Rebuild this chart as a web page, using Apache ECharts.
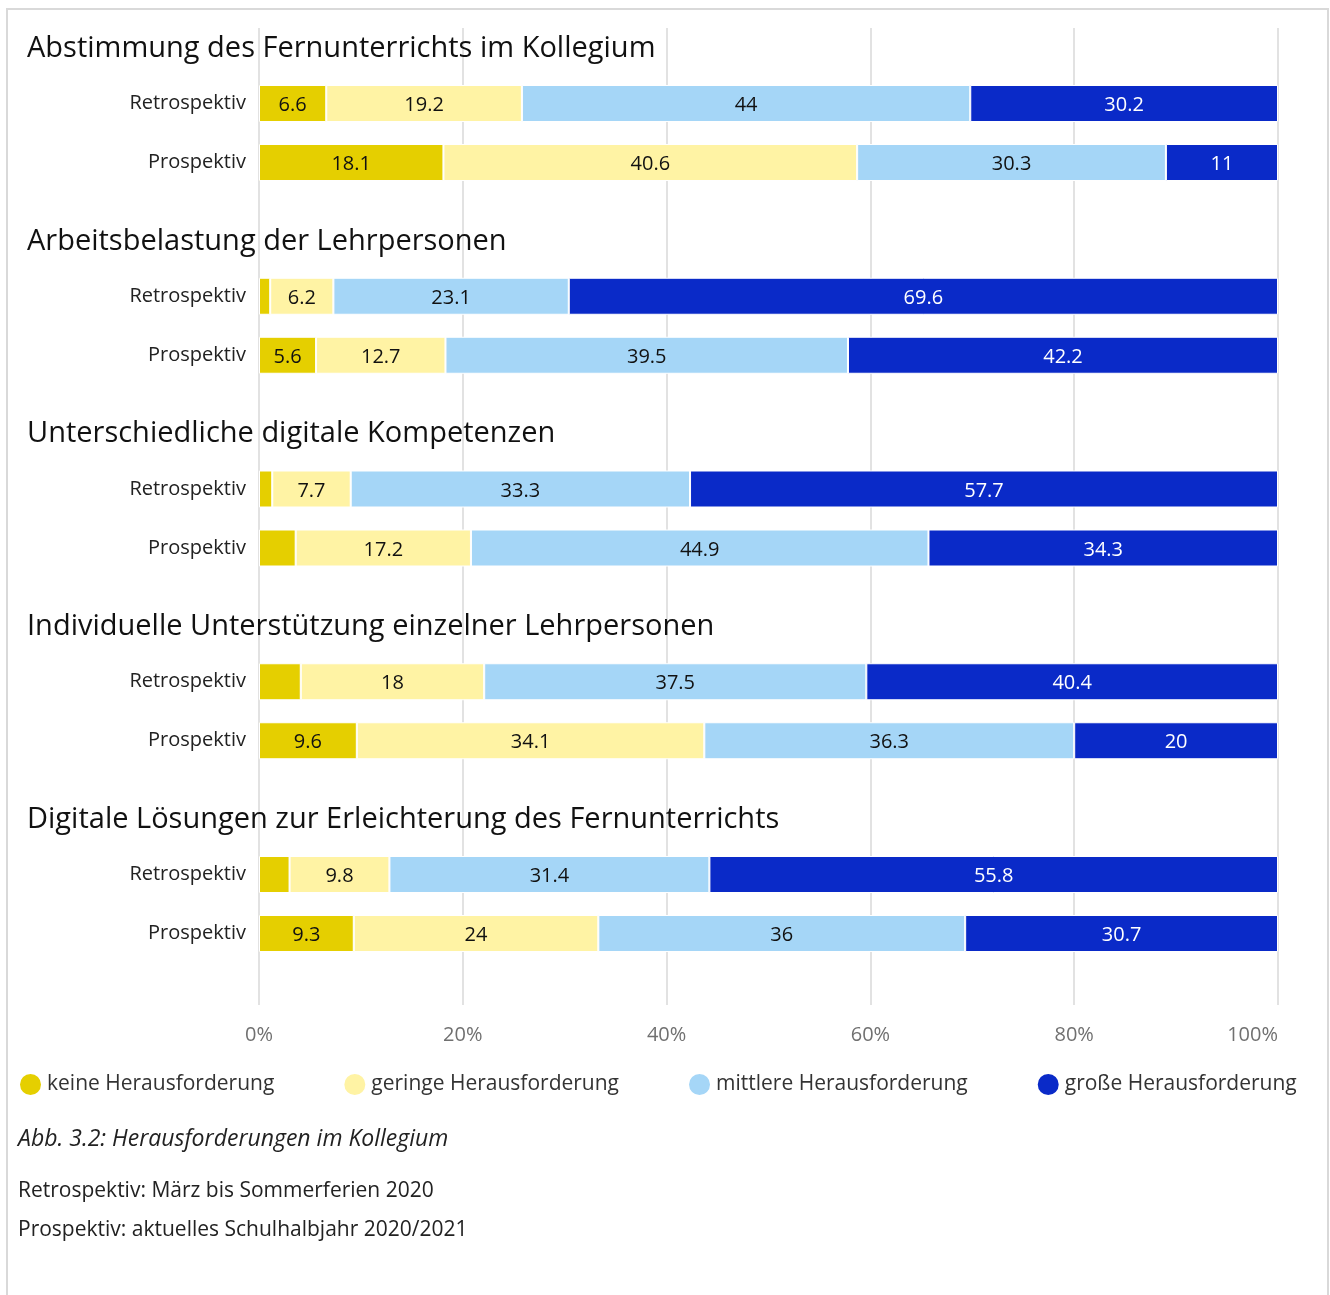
<!DOCTYPE html>
<html>
<head>
<meta charset="utf-8">
<script src="https://cdn.jsdelivr.net/npm/echarts@6/dist/echarts.min.js"></script>
<style>
  html, body { margin: 0; padding: 0; background: #fff; }
  #chart { width: 1330px; height: 1295px; }
</style>
</head>
<body>
<div id="chart"></div>
<script>
var groupTitles = [
    'Abstimmung des Fernunterrichts im Kollegium',
    'Arbeitsbelastung der Lehrpersonen',
    'Unterschiedliche digitale Kompetenzen',
    'Individuelle Unterstützung einzelner Lehrpersonen',
    'Digitale Lösungen zur Erleichterung des Fernunterrichts'
];
var rowLabels = ['Retrospektiv', 'Prospektiv'];
var seriesNames = ['keine Herausforderung', 'geringe Herausforderung', 'mittlere Herausforderung', 'große Herausforderung'];
// je Gruppe: Retrospektiv, Prospektiv
var keine    = [6.6, 18.1, 1.1, 5.6, 1.3, 3.6, 4.1, 9.6, 3.0, 9.3];
var geringe  = [19.2, 40.6, 6.2, 12.7, 7.7, 17.2, 18, 34.1, 9.8, 24];
var mittlere = [44, 30.3, 23.1, 39.5, 33.3, 44.9, 37.5, 36.3, 31.4, 36];
var grosse   = [30.2, 11, 69.6, 42.2, 57.7, 34.3, 40.4, 20, 55.8, 30.7];

var allValues = [keine, geringe, mittlere, grosse];
var colorList = ['#e5cf00', '#fff3a4', '#a5d6f7', '#0a2ac8'];
var labelColors = ['#111', '#111', '#111', '#fff'];
var fontFam = '"Open Sans", Lato, sans-serif';

var chartLeft = 259, chartRight = 52;
var firstTop = 74, groupStep = 192.75, groupHeight = 118;

var grids = [{left: chartLeft, right: chartRight, top: 28, bottom: 290}];
var xAxes = [{
    gridIndex: 0, type: 'value', min: 0, max: 100, interval: 20,
    axisLine: {show: false}, axisTick: {show: false},
    splitLine: {show: true, lineStyle: {color: '#e2e2e2', width: 2}},
    axisLabel: {formatter: '{value}%', color: '#707070', fontSize: 20, fontFamily: fontFam, margin: 20, alignMaxLabel: 'right'}
}];
var yAxes = [{gridIndex: 0, type: 'value', min: 0, max: 1, show: false}];
var series = [];
var graphics = [{
    type: 'rect', left: 6, top: 8,
    shape: {width: 1321, height: 1300},
    style: {fill: 'transparent', stroke: '#d9d9d9', lineWidth: 2}
}];

for (var g = 0; g < groupTitles.length; g++) {
    var gi = g + 1;
    var gridTop = firstTop + g * groupStep;
    grids.push({left: chartLeft, right: chartRight, top: gridTop, height: groupHeight});
    xAxes.push({gridIndex: gi, type: 'value', min: 0, max: 100, show: false});
    yAxes.push({
        gridIndex: gi, type: 'category', inverse: true, data: rowLabels,
        axisLine: {show: false}, axisTick: {show: false},
        axisLabel: {color: '#222', fontSize: 20, fontFamily: fontFam, margin: 13, padding: [0, 0, 8, 0]}
    });
    graphics.push({
        type: 'text', left: 27, top: gridTop - 40, z: 100,
        style: {text: groupTitles[g], fill: '#111', fontSize: 29, fontFamily: fontFam}
    });
    for (var s = 0; s < 4; s++) {
        series.push({
            name: seriesNames[s],
            type: 'bar',
            stack: 'g' + g,
            xAxisIndex: gi,
            yAxisIndex: gi,
            barWidth: 37,
            data: allValues[s].slice(g * 2, g * 2 + 2),
            itemStyle: {color: colorList[s], borderColor: '#fff', borderWidth: 1},
            label: {
                show: true, position: 'inside', offset: [0, 2],
                color: labelColors[s], fontSize: 20, fontFamily: fontFam,
                formatter: function (p) { return p.value < 5 ? '' : String(p.value); }
            }
        });
    }
}

graphics.push({
    type: 'text', left: 18, top: 1128,
    style: {text: 'Abb. 3.2: Herausforderungen im Kollegium', fill: '#222', fontSize: 23, fontStyle: 'italic', fontFamily: fontFam}
});
graphics.push({
    type: 'text', left: 18, top: 1181,
    style: {text: 'Retrospektiv: März bis Sommerferien 2020', fill: '#222', fontSize: 21, fontFamily: fontFam}
});
graphics.push({
    type: 'text', left: 18, top: 1220,
    style: {text: 'Prospektiv: aktuelles Schulhalbjahr 2020/2021', fill: '#222', fontSize: 21, fontFamily: fontFam}
});

var myChart = echarts.init(document.getElementById('chart'));
var option = {
    animation: false,
    legend: {
        data: seriesNames,
        left: 13, top: 1067,
        icon: 'circle', itemWidth: 23, itemHeight: 23, itemGap: 68,
        textStyle: {color: '#333', fontSize: 21, fontFamily: fontFam}
    },
    grid: grids,
    xAxis: xAxes,
    yAxis: yAxes,
    series: series,
    graphic: graphics
};
myChart.setOption(option);
</script>
</body>
</html>
